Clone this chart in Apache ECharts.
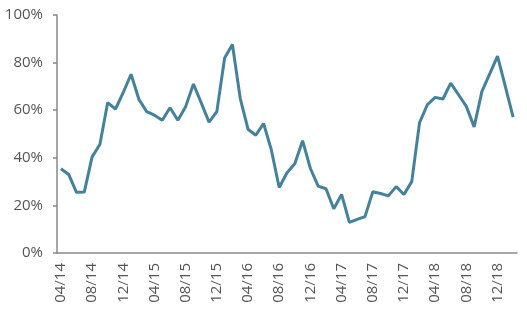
<!DOCTYPE html>
<html>
<head>
<meta charset="utf-8">
<script src="https://cdn.jsdelivr.net/npm/echarts@6/dist/echarts.min.js"></script>
<style>
  html, body { margin: 0; padding: 0; background: #fff; }
  #chart { width: 527px; height: 321px; }
</style>
</head>
<body>
<div id="chart"></div>
<script>
// months from 04/14 to 02/19
let months = [
    "04/14","05/14","06/14","07/14","08/14","09/14","10/14","11/14","12/14",
    "01/15","02/15","03/15","04/15","05/15","06/15","07/15","08/15","09/15","10/15","11/15","12/15",
    "01/16","02/16","03/16","04/16","05/16","06/16","07/16","08/16","09/16","10/16","11/16","12/16",
    "01/17","02/17","03/17","04/17","05/17","06/17","07/17","08/17","09/17","10/17","11/17","12/17",
    "01/18","02/18","03/18","04/18","05/18","06/18","07/18","08/18","09/18","10/18","11/18","12/18",
    "01/19","02/19"
];
// share in %
let values = [
    35.4, 33.0, 25.5, 25.6, 40.4, 45.6, 63.2, 60.5, 67.5,
    75.1, 64.6, 59.4, 57.9, 55.8, 61.0, 55.8, 61.5, 71.0, 63.1, 55.0, 59.4,
    81.9, 87.6, 65.0, 52.0, 49.5, 54.4, 43.2, 27.5, 33.7, 37.5, 47.2, 35.5,
    28.1, 27.0, 18.6, 24.6, 12.9, 14.1, 15.3, 25.7, 25.0, 24.0, 27.9, 24.6,
    30.0, 54.8, 62.3, 65.4, 64.7, 71.4, 66.5, 61.6, 53.0, 67.9, 75.3, 82.7,
    70.0, 57.1
];

let axisColor = "#898989";
let textColor = "#555555";
let font = "'Open Sans', 'Liberation Sans', sans-serif";

let myChart = echarts.init(document.getElementById("chart"), null, {renderer: "canvas"});
let option = {
    animation: false,
    grid: {
        left: 57,
        right: 10,
        top: 15,
        bottom: 68,
        containLabel: false
    },
    xAxis: {
        type: "category",
        data: months,
        boundaryGap: true,
        axisLine: {lineStyle: {color: axisColor, width: 1.5}},
        axisTick: {
            interval: 3,
            length: 5,
            lineStyle: {color: axisColor, width: 1.5}
        },
        axisLabel: {
            interval: 3,
            rotate: 90,
            margin: 10,
            color: textColor,
            fontSize: 15,
            fontFamily: font
        },
        splitLine: {show: false}
    },
    yAxis: {
        type: "value",
        min: 0,
        max: 100,
        interval: 20,
        axisLine: {show: true, lineStyle: {color: axisColor, width: 1.5}},
        axisTick: {show: true, length: 4, lineStyle: {color: axisColor, width: 1.5}},
        axisLabel: {
            formatter: "{value}%",
            margin: 14,
            color: textColor,
            fontSize: 15,
            fontFamily: font
        },
        splitLine: {show: false}
    },
    series: [{
        type: "line",
        data: values,
        symbol: "none",
        lineStyle: {color: "#44819B", width: 3},
        itemStyle: {color: "#44819B"}
    }]
};
myChart.setOption(option);
</script>
</body>
</html>
